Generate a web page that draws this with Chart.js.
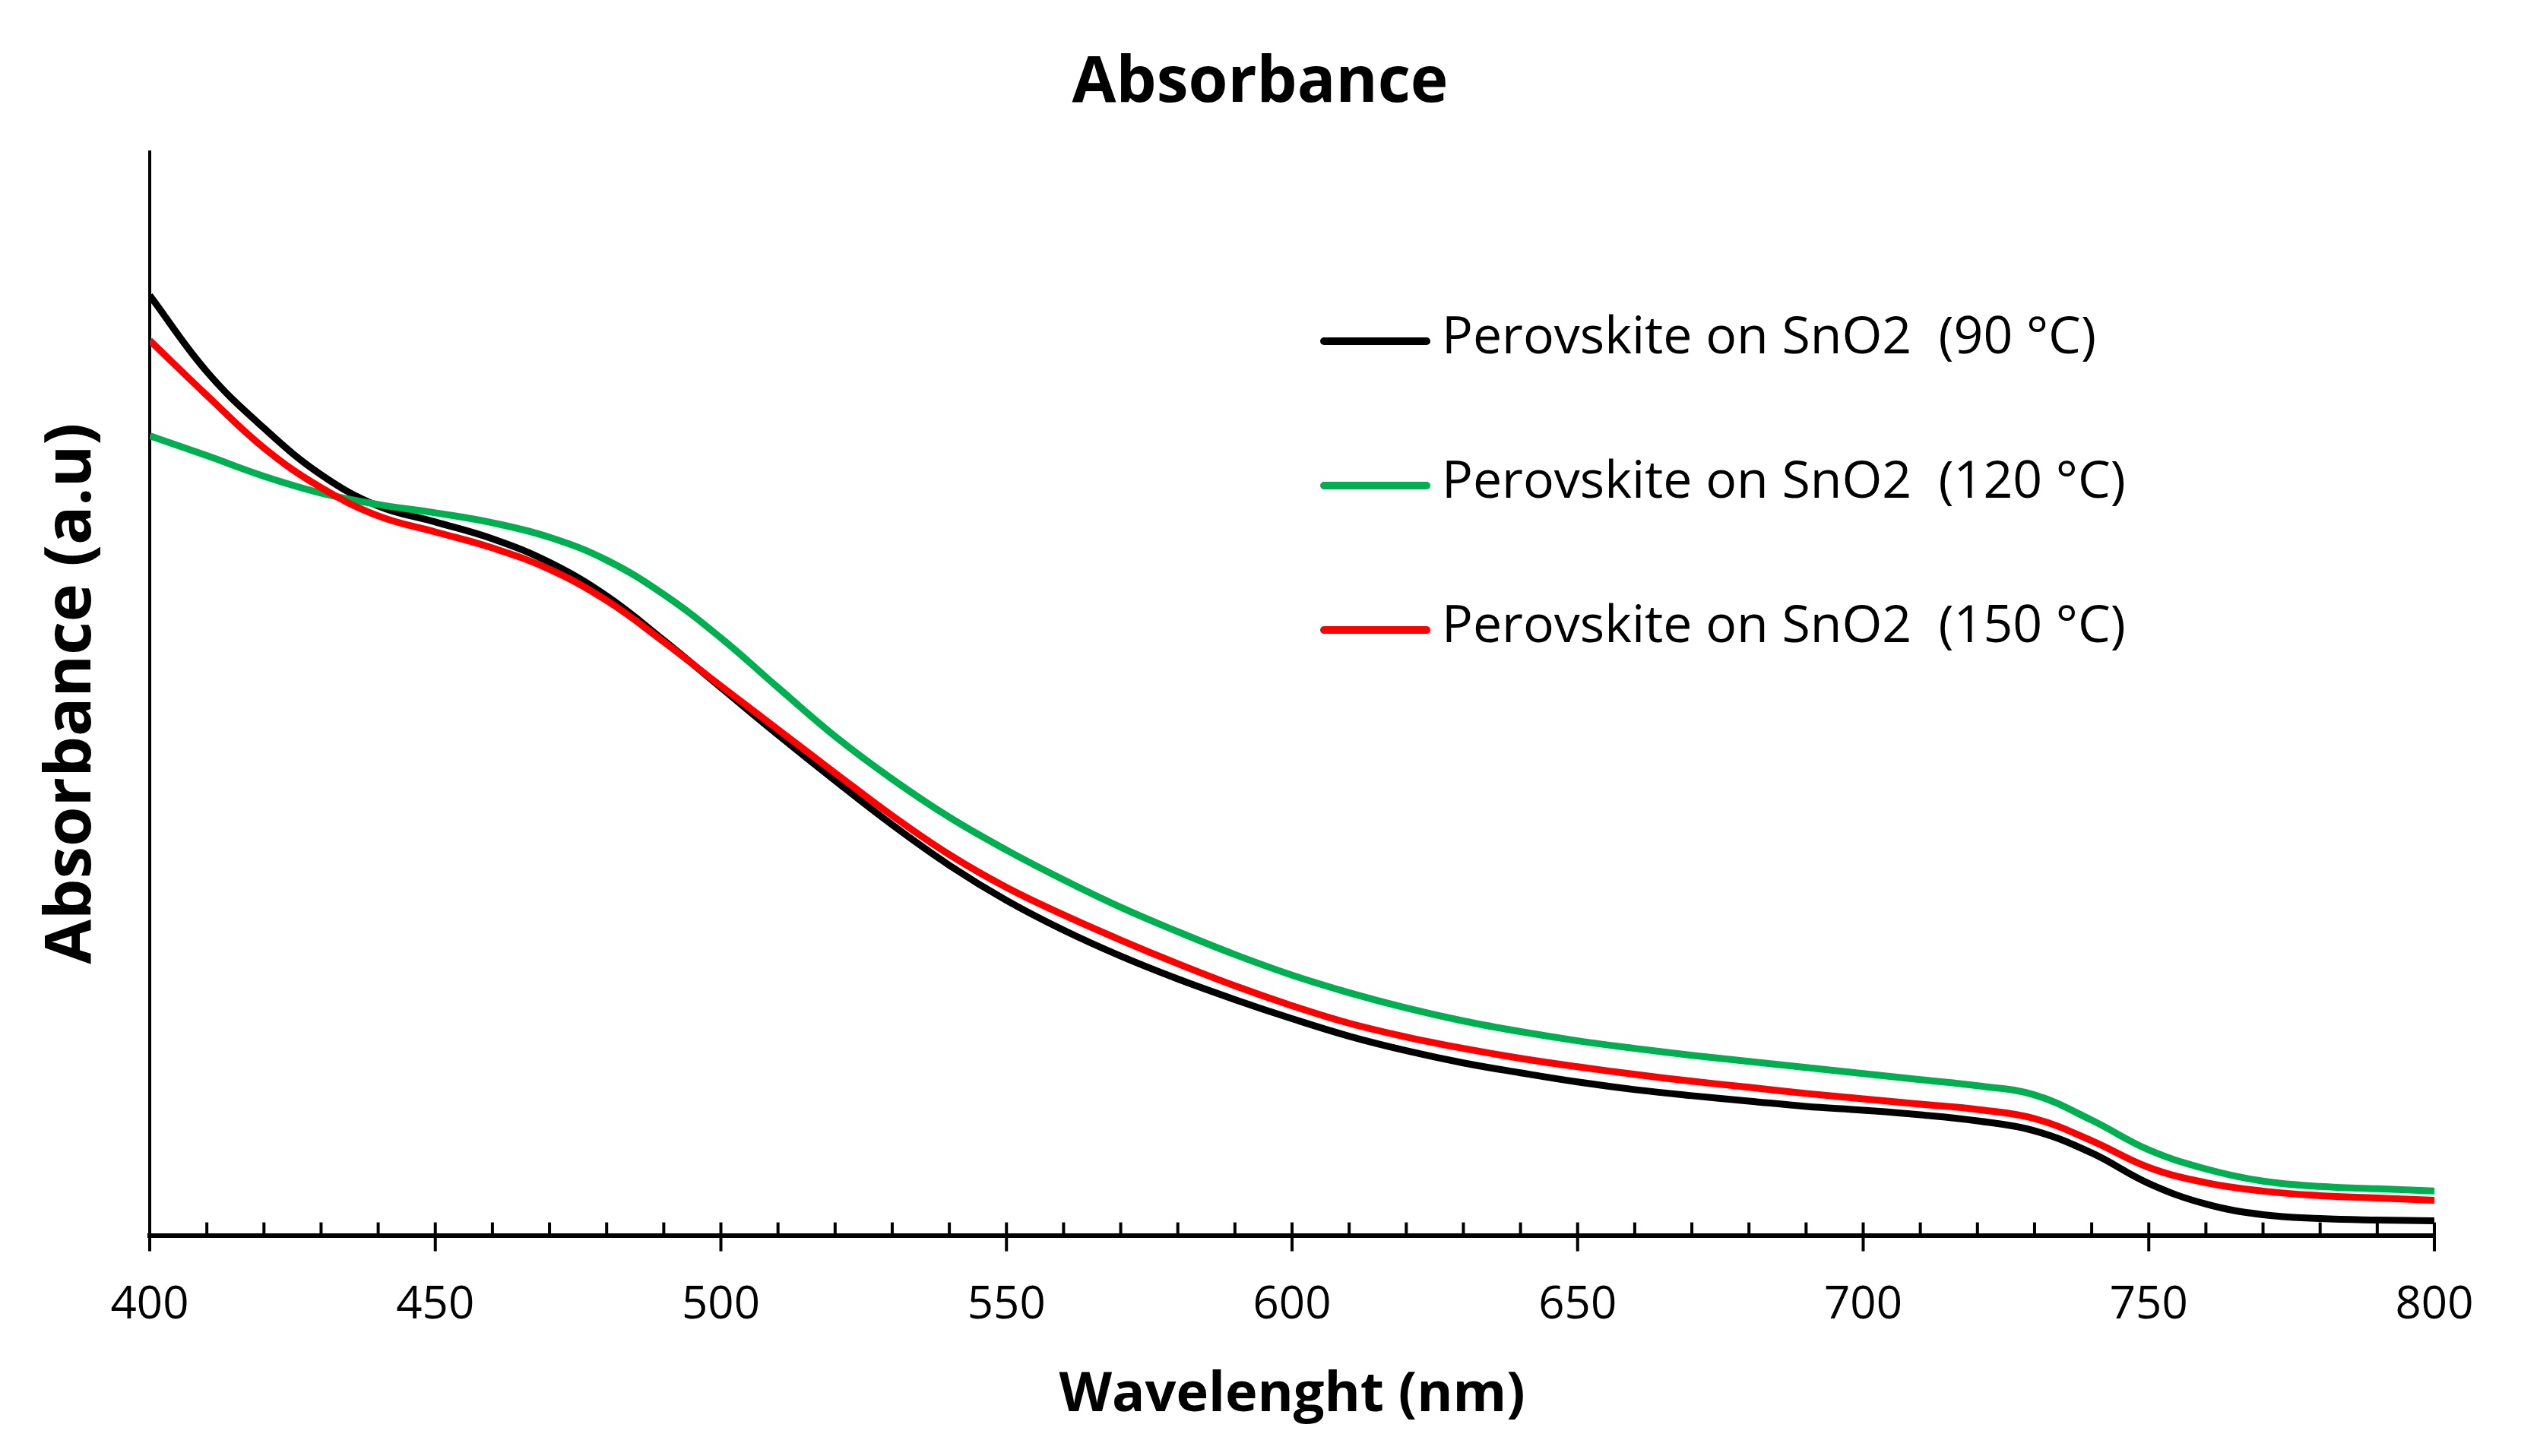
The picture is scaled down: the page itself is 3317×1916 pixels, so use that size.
<!DOCTYPE html>
<html>
<head>
<meta charset="utf-8">
<script src="https://cdn.jsdelivr.net/npm/chart.js@4.4.1/dist/chart.umd.min.js"></script>
<style>
  html, body { margin: 0; padding: 0; background: #fff; }
  canvas { display: block; }
</style>
</head>
<body>
<canvas id="absorbance" width="3317" height="1916"></canvas>
<script>
// wavelength grid (nm)
var wavelengths = [400, 410, 420, 430, 440, 450, 460, 470, 480, 490,
                   500, 510, 520, 530, 540, 550, 560, 570, 580, 590,
                   600, 610, 620, 630, 640, 650, 660, 670, 680, 690,
                   700, 710, 720, 730, 740, 750, 760, 770, 780, 790, 800];

// absorbance (a.u.)
var abs90 = [1.232, 1.132, 1.058, 0.997, 0.956, 0.935, 0.913, 0.882, 0.838, 0.780,
             0.718, 0.656, 0.596, 0.538, 0.485, 0.439, 0.400, 0.366, 0.336, 0.309,
             0.284, 0.261, 0.242, 0.226, 0.213, 0.201, 0.191, 0.183, 0.176, 0.169,
             0.164, 0.158, 0.150, 0.137, 0.108, 0.068, 0.041, 0.027, 0.022, 0.020, 0.019];

var abs120 = [1.048, 1.022, 0.995, 0.973, 0.958, 0.947, 0.934, 0.915, 0.885, 0.840,
              0.783, 0.718, 0.654, 0.598, 0.548, 0.505, 0.466, 0.430, 0.398, 0.368,
              0.341, 0.318, 0.298, 0.281, 0.267, 0.255, 0.245, 0.236, 0.228, 0.220,
              0.212, 0.204, 0.196, 0.184, 0.151, 0.112, 0.087, 0.071, 0.064, 0.061, 0.058];

var abs150 = [1.173, 1.101, 1.032, 0.980, 0.943, 0.922, 0.901, 0.873, 0.832, 0.778,
              0.720, 0.663, 0.606, 0.550, 0.499, 0.456, 0.420, 0.387, 0.356, 0.327,
              0.301, 0.278, 0.260, 0.245, 0.232, 0.221, 0.211, 0.202, 0.194, 0.186,
              0.179, 0.172, 0.165, 0.153, 0.124, 0.089, 0.069, 0.058, 0.052, 0.049, 0.046];

var seriesLabels = ['Perovskite on SnO2  (90 \u00B0C)',
                    'Perovskite on SnO2  (120 \u00B0C)',
                    'Perovskite on SnO2  (150 \u00B0C)'];
var seriesColors = ['#000000', '#00B050', '#FF0000'];
var xTickLabels = [400, 450, 500, 550, 600, 650, 700, 750, 800];
var chartTitle = 'Absorbance';

function toPoints(ys) {
  return wavelengths.map(function (w, i) { return {x: w, y: ys[i]}; });
}

Chart.defaults.font.family = '"Open Sans", sans-serif';
Chart.defaults.color = '#000';

// Excel style tick marks: minor every 10 nm inside, major every 50 nm crossing
var tickMarks = {
  id: 'tickMarks',
  afterDraw: function (chart) {
    var ctx = chart.ctx;
    var xs = chart.scales.x;
    var yb = chart.chartArea.bottom;
    ctx.save();
    ctx.strokeStyle = '#000';
    ctx.lineWidth = 4;
    for (var v = 400; v <= 800; v += 10) {
      var px = xs.getPixelForValue(v);
      var major = xTickLabels.indexOf(v) >= 0;
      ctx.beginPath();
      ctx.moveTo(px, yb - 17);
      ctx.lineTo(px, major ? yb + 21 : yb);
      ctx.stroke();
    }
    ctx.restore();
  }
};

// title and legend, placed like the Excel original
var overlay = {
  id: 'overlay',
  afterDraw: function (chart) {
    var ctx = chart.ctx;
    ctx.save();
    ctx.fillStyle = '#000';
    ctx.textBaseline = 'middle';
    ctx.textAlign = 'center';
    ctx.font = 'bold 84px "Open Sans"';
    ctx.fillText(chartTitle, 1658, 110);

    ctx.textAlign = 'left';
    ctx.font = '68px "Open Sans"';
    chart.data.datasets.forEach(function (ds, i) {
      var y = 449 + i * 190;
      ctx.strokeStyle = ds.borderColor;
      ctx.lineWidth = 10;
      ctx.lineCap = 'round';
      ctx.beginPath();
      ctx.moveTo(1742, y);
      ctx.lineTo(1877, y);
      ctx.stroke();
      ctx.fillText(ds.label, 1897, y - 3);
    });
    ctx.restore();
  }
};

var ctx = document.getElementById('absorbance').getContext('2d');
var chart = new Chart(ctx, {
  type: 'line',
  data: {
    datasets: [
      {label: seriesLabels[0], data: toPoints(abs90), borderColor: seriesColors[0], order: 2},
      {label: seriesLabels[1], data: toPoints(abs120), borderColor: seriesColors[1], order: 1},
      {label: seriesLabels[2], data: toPoints(abs150), borderColor: seriesColors[2], order: 0}
    ]
  },
  options: {
    responsive: false,
    devicePixelRatio: 1,
    animation: false,
    datasets: {
      line: {
        borderWidth: 9,
        pointRadius: 0,
        fill: false,
        tension: 0.4
      }
    },
    layout: {
      padding: {left: 44, right: 114, top: 200, bottom: 32}
    },
    scales: {
      x: {
        type: 'linear',
        min: 400,
        max: 800,
        grid: {display: false, drawTicks: false},
        border: {display: true, color: '#000', width: 6},
        ticks: {
          stepSize: 50,
          padding: 56,
          font: {size: 60},
          color: '#000',
          callback: function (v) { return xTickLabels.indexOf(v) >= 0 ? String(v) : ''; }
        },
        title: {
          display: true,
          text: 'Wavelenght (nm)',
          font: {size: 72, weight: 'bold'},
          color: '#000',
          padding: {top: -16, bottom: 4}
        }
      },
      y: {
        min: 0,
        max: 1.42,
        grid: {display: false, drawTicks: false},
        border: {display: true, color: '#000', width: 4},
        ticks: {display: false},
        title: {
          display: true,
          text: 'Absorbance (a.u)',
          font: {size: 85, weight: 'bold'},
          color: '#000',
          padding: {top: 0, bottom: 51}
        }
      }
    },
    plugins: {
      legend: {display: false},
      tooltip: {enabled: false},
      title: {display: false}
    }
  },
  plugins: [tickMarks, overlay]
});
</script>
</body>
</html>
